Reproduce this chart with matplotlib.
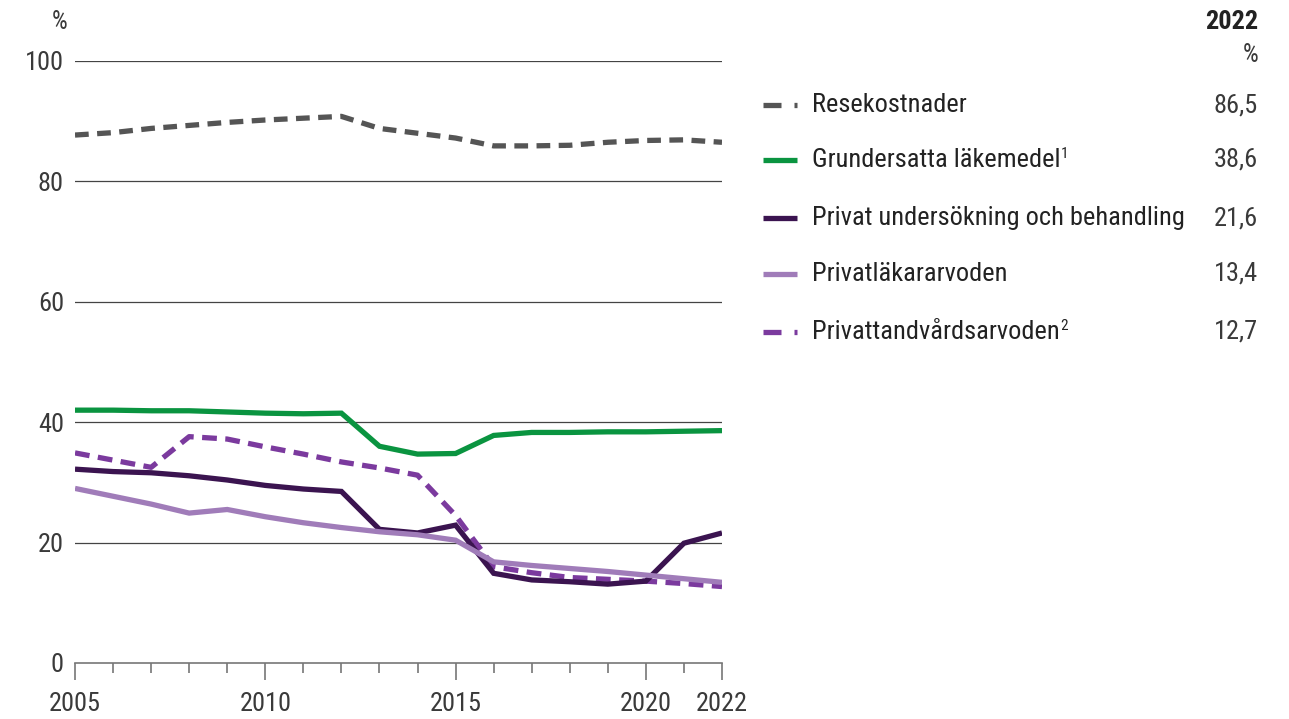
import matplotlib
matplotlib.use("Agg")
import matplotlib.pyplot as plt
from matplotlib.lines import Line2D
from matplotlib import font_manager

# Data
years = list(range(2005, 2023))
resekostnader = [87.7, 88.1, 88.8, 89.3, 89.8, 90.2, 90.5, 90.8, 88.8, 88.0,
                 87.2, 85.9, 85.9, 86.0, 86.5, 86.8, 86.9, 86.5]
grundersatta = [42.0, 42.0, 41.9, 41.9, 41.7, 41.5, 41.4, 41.5, 36.0, 34.7,
                34.8, 37.8, 38.3, 38.3, 38.4, 38.4, 38.5, 38.6]
privat_unders = [32.2, 31.8, 31.6, 31.1, 30.4, 29.5, 28.9, 28.5, 22.2, 21.6,
                 22.9, 14.9, 13.8, 13.5, 13.1, 13.6, 19.9, 21.6]
privatlakar = [29.0, 27.7, 26.4, 24.9, 25.5, 24.3, 23.3, 22.5, 21.8, 21.3,
               20.4, 16.8, 16.2, 15.7, 15.2, 14.6, 14.0, 13.4]
privattandvard = [34.9, 33.7, 32.5, 37.6, 37.2, 35.9, 34.7, 33.4, 32.4, 31.2,
                  24.5, 16.0, 15.0, 14.2, 13.9, 13.6, 13.2, 12.7]

labels = ["Resekostnader", "Grundersatta läkemedel", "Privat undersökning och behandling",
          "Privatläkararvoden", "Privattandvårdsarvoden"]
footnotes = ["", "1", "", "", "2"]
values_2022 = ["86,5", "38,6", "21,6", "13,4", "12,7"]
yticks = [0, 20, 40, 60, 80, 100]
xlabel_years = [2005, 2010, 2015, 2020, 2022]

names = {f.name for f in font_manager.fontManager.ttflist}
family = "Roboto Condensed" if "Roboto Condensed" in names else "Roboto"
plt.rcParams["font.family"] = [family, "DejaVu Sans"]

TXT = "#3a3a3a"
series = [
    (resekostnader, "#555555", (2.6, 1.6)),
    (grundersatta, "#0a9440", None),
    (privat_unders, "#3b1450", None),
    (privatlakar, "#a07cb9", None),
    (privattandvard, "#7b3a9e", (2.8, 1.6)),
]

fig = plt.figure(figsize=(12.89, 7.19), dpi=100)
ax = fig.add_axes([75 / 1289, 1 - 663 / 719, (722 - 75) / 1289, (663 - 61) / 719])
ax.set_xlim(2005, 2022)
ax.set_ylim(0, 100)

for y in yticks[1:]:
    ax.axhline(y, color="#444444", lw=0.9, zorder=1)

order = [0, 1, 4, 2, 3]
for i in order:
    vals, col, dash = series[i]
    ln, = ax.plot(years, vals, color=col, lw=3.8, zorder=3, solid_joinstyle="miter",
                  solid_capstyle="butt")
    if dash:
        ln.set_dashes(dash)
        ln.set_dash_capstyle("butt")

for s in ["top", "right", "left"]:
    ax.spines[s].set_visible(False)
ax.spines["bottom"].set_color("#777777")
ax.spines["bottom"].set_linewidth(1.2)
ax.set_yticks(yticks)
ax.set_yticklabels([str(v) for v in yticks])
ax.tick_params(axis="y", length=0, pad=8, labelsize=19, labelcolor=TXT)
ax.set_xticks(xlabel_years)
ax.set_xticklabels([str(v) for v in xlabel_years])
ax.set_xticks(years, minor=True)
ax.tick_params(axis="x", which="major", length=12, width=1.2, color="#777777",
               labelsize=19, labelcolor=TXT, pad=9)
ax.tick_params(axis="x", which="minor", length=7, width=1.2, color="#777777")

fig.text(60 / 1289, 1 - 22 / 719, "%", ha="center", va="center", fontsize=18, color=TXT)

# legend panel
fig.text(1258 / 1289, 1 - 22 / 719, "2022", ha="right", va="center", fontsize=19,
         fontweight="bold", color="#222222")
fig.text(1258 / 1289, 1 - 55 / 719, "%", ha="right", va="center", fontsize=18, color=TXT)
rows = [105, 160, 218, 274, 332]
for i, ry in enumerate(rows):
    vals, col, dash = series[i]
    yy = 1 - ry / 719
    if dash:
        fig.add_artist(Line2D([763 / 1289, 781 / 1289], [yy, yy], color=col, lw=3.8,
                              transform=fig.transFigure, solid_capstyle="butt"))
        fig.add_artist(Line2D([794 / 1289, 797 / 1289], [yy, yy], color=col, lw=3.8,
                              transform=fig.transFigure, solid_capstyle="butt"))
    else:
        fig.add_artist(Line2D([763 / 1289, 797 / 1289], [yy, yy], color=col, lw=3.8,
                              transform=fig.transFigure, solid_capstyle="butt"))
    t = fig.text(812 / 1289, yy, labels[i], ha="left", va="center", fontsize=19, color="#222222")
    if footnotes[i]:
        ax.annotate(footnotes[i], xy=(1, 1), xycoords=t, xytext=(0.5, 1),
                    textcoords="offset points", ha="left", va="top", fontsize=11,
                    color="#222222", annotation_clip=False)
    fig.text(1258 / 1289, yy, values_2022[i], ha="right", va="center", fontsize=19, color=TXT)

fig.savefig("out.png", dpi=100)
